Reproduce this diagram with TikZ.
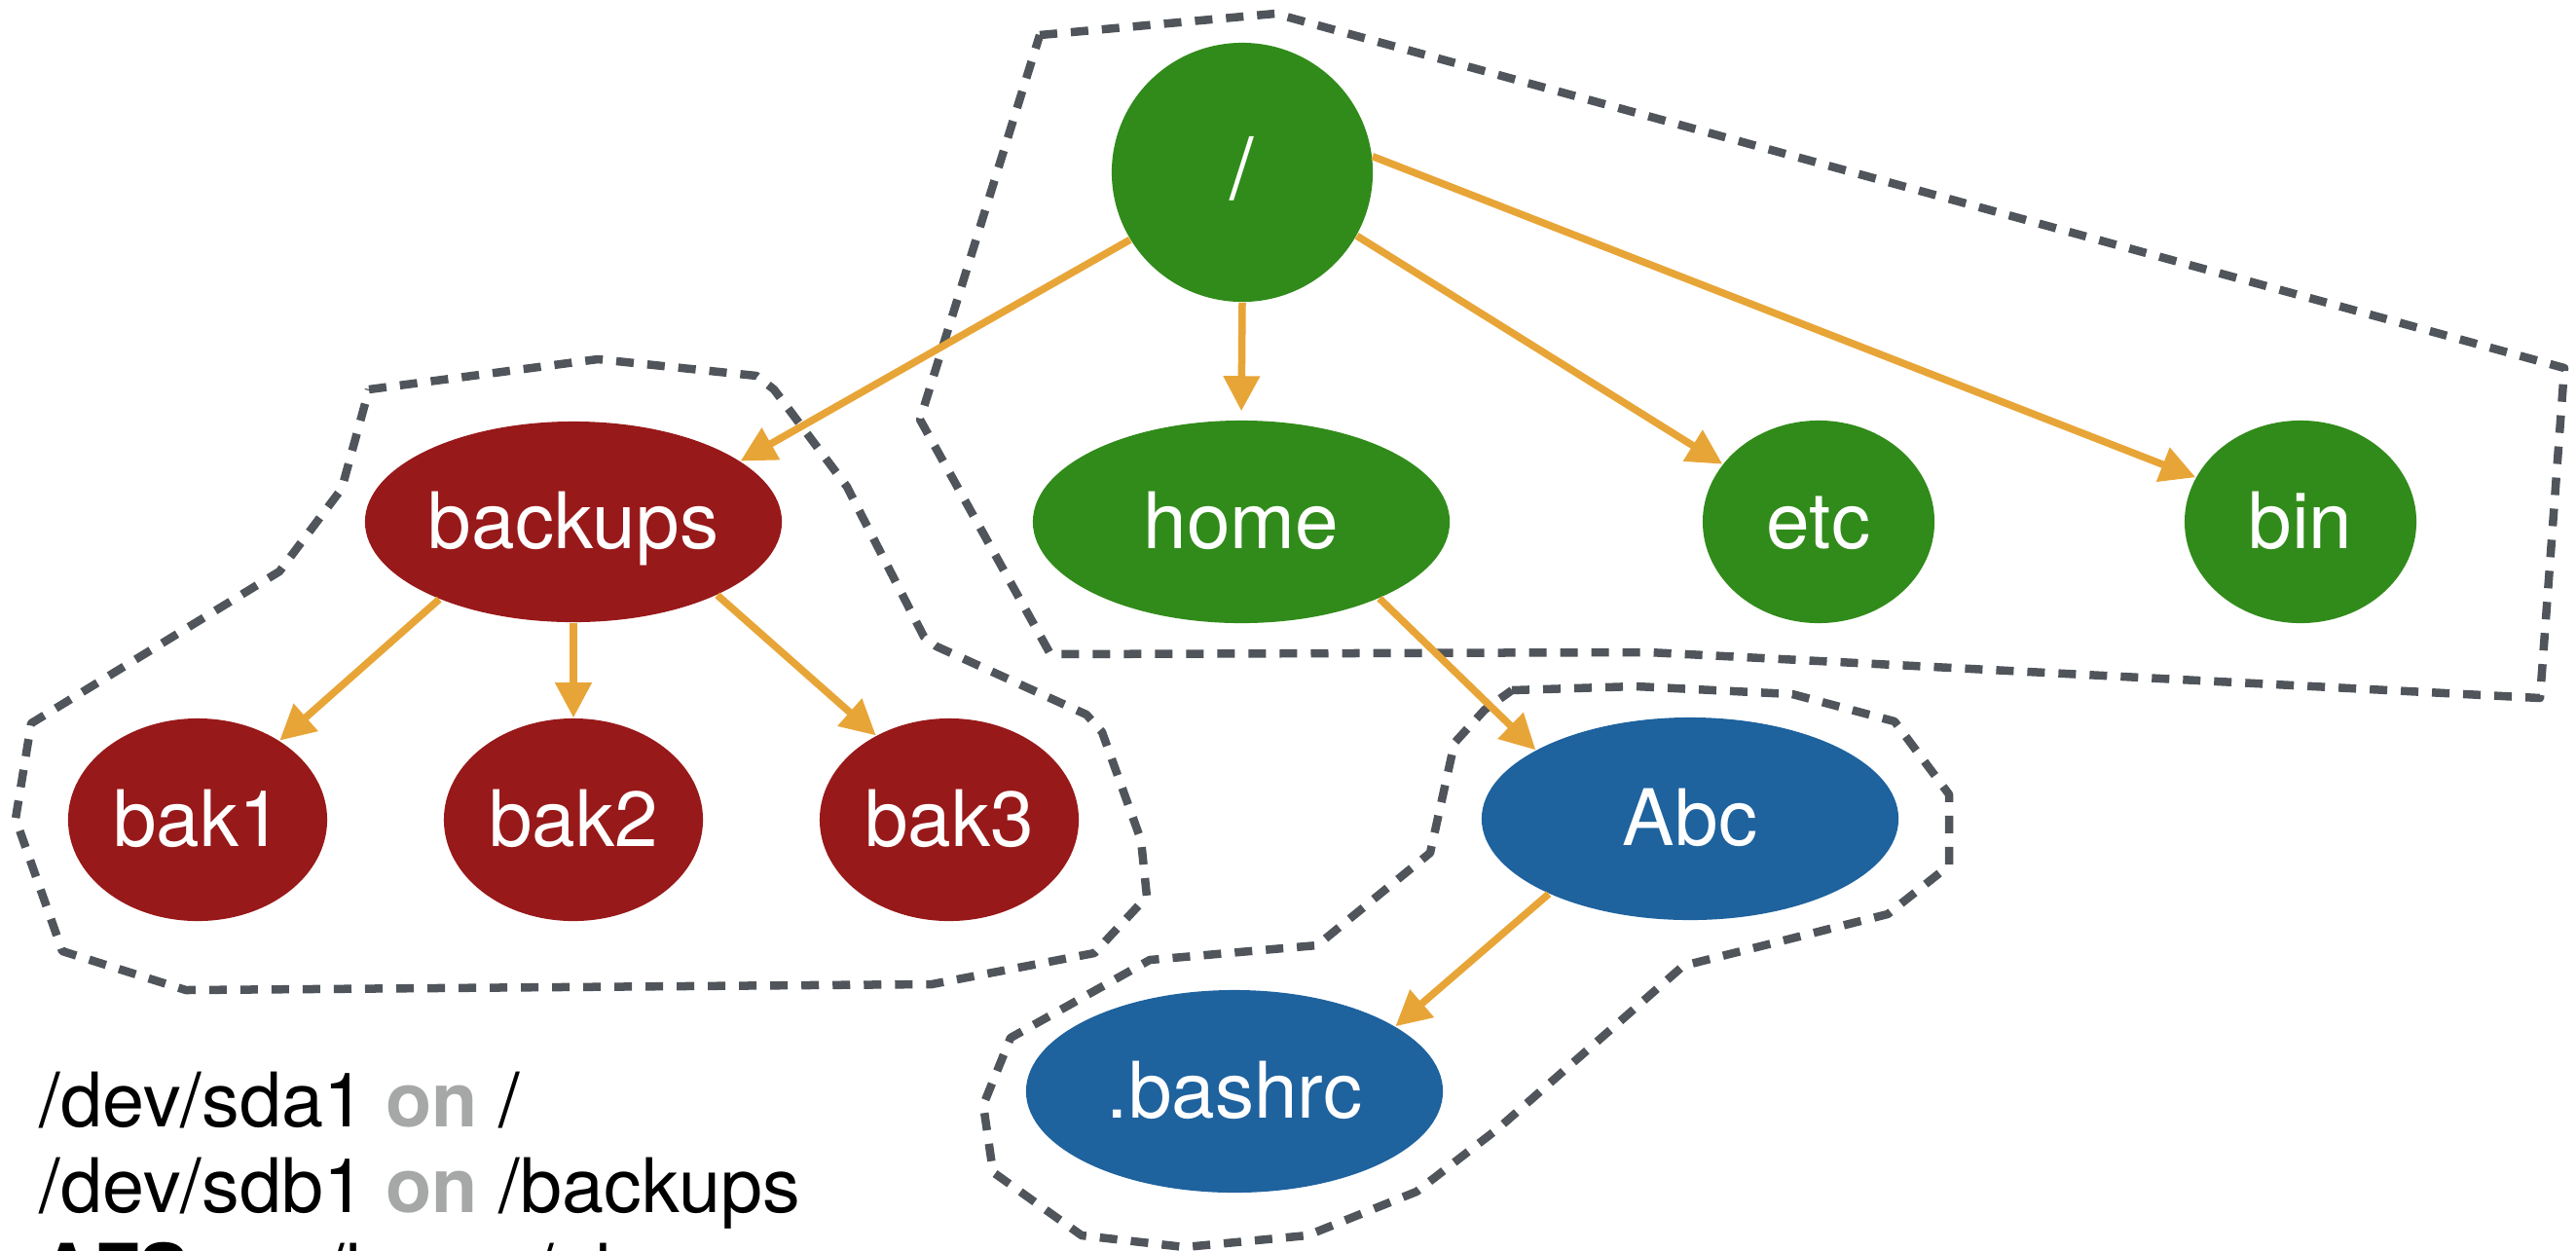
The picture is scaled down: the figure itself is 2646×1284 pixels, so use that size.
\documentclass[tikz,border=0pt]{standalone}
\usepackage{fontspec}
\setmainfont{TeX Gyre Heros}
\usetikzlibrary{shapes.geometric,arrows.meta}
\definecolor{ngreen}{RGB}{49,139,26}
\definecolor{nred}{RGB}{152,25,26}
\definecolor{nblue}{RGB}{30,98,158}
\definecolor{linkc}{RGB}{232,165,55}
\definecolor{dashc}{RGB}{80,85,91}
\definecolor{ongray}{RGB}{166,168,167}
\begin{document}
\begin{tikzpicture}[x=0.01cm,y=-0.01cm,
  fsnode/.style={ellipse, inner sep=0pt, text=white,
    font=\fontsize{22.8pt}{27pt}\selectfont, text height=0.62cm, text depth=0.08cm},
  gn/.style={fsnode, fill=ngreen},
  rn/.style={fsnode, fill=nred},
  bn/.style={fsnode, fill=nblue},
  link/.style={draw=linkc, line width=0.075cm, -{Triangle[length=0.36cm,width=0.36cm]}},
  grp/.style={draw=dashc, line width=0.085cm, dash pattern=on 0.18cm off 0.14cm, line join=round},
  mount/.style={anchor=base west, inner sep=0pt, font=\fontsize{22pt}{26pt}\selectfont}
]
\useasboundingbox (0,0) rectangle (2646,1284);

% groups
\draw[grp] (1068,36) -- (1310,14) -- (2634,378) -- (2609,717) -- (1693,670) -- (1079,672) -- (945,431) -- cycle;
\draw[grp] (379,400) -- (614,369) -- (777,386) -- (795,400) -- (870,500) -- (893,545) -- (949,654) -- (962,664)
  -- (1116,734) -- (1132,752) -- (1172,863) -- (1178,921) -- (1124,979) -- (957,1011) -- (191,1017)
  -- (64,977) -- (16,841) -- (32,743) -- (287,587) -- (351,502) -- cycle;
\draw[grp] (1553,709) -- (1680,705) -- (1841,713) -- (1946,741) -- (2002,816) -- (2002,889) -- (1939,939)
  -- (1729,992) -- (1539,1159) -- (1455,1224) -- (1343,1269) -- (1217,1281) -- (1111,1269) -- (1020,1204)
  -- (1010,1135) -- (1038,1066) -- (1181,986) -- (1353,971) -- (1469,876) -- (1494,763) -- (1525,729) -- cycle;

% nodes
\node[gn, minimum width=2.68cm, minimum height=2.66cm, font=\fontsize{25pt}{29pt}\selectfont] (root) at (1276,177) {/};
\node[gn, minimum width=4.28cm, minimum height=2.08cm] (home) at (1275,536) {home};
\node[gn, minimum width=2.38cm, minimum height=2.08cm] (etc) at (1868,536) {etc};
\node[gn, minimum width=2.38cm, minimum height=2.08cm] (bin) at (2363,536) {bin};
\node[rn, minimum width=4.28cm, minimum height=2.06cm] (backups) at (589,536) {backups};
\node[rn, minimum width=2.66cm, minimum height=2.08cm] (bak1) at (203,842) {bak1};
\node[rn, minimum width=2.66cm, minimum height=2.08cm] (bak2) at (589,842) {bak2};
\node[rn, minimum width=2.66cm, minimum height=2.08cm] (bak3) at (975,842) {bak3};
\node[bn, minimum width=4.28cm, minimum height=2.08cm] (abc) at (1736,841) {Abc};
\node[bn, minimum width=4.28cm, minimum height=2.08cm] (bashrc) at (1268,1121) {.bashrc};

% links
\draw[link] (root.211.5) -- (backups.20);
\draw[link, shorten >=0.09cm] (root.270) -- (home.90);
\draw[link] (root.331) -- (etc.149);
\draw[link] (root.7.7) -- (bin.157);
\draw[link] (backups.210) -- (bak1.44);
\draw[link] (backups.270) -- (bak2.90);
\draw[link] (backups.333) -- (bak3.131);
\draw[link] (home.331) -- (abc.156);
\draw[link] (abc.208) -- (bashrc.22);

% mount table
\node[mount] (m1) at (40,1157) {/dev/sda1 {\bfseries\color{ongray}on} /};
\node[mount] (m2) at (40,1245) {/dev/sdb1 {\bfseries\color{ongray}on} /backups};
\node[mount] (m3) at (40,1333) {{\bfseries AFS} {\bfseries\color{ongray}on} /home/abc};
\end{tikzpicture}
\end{document}
